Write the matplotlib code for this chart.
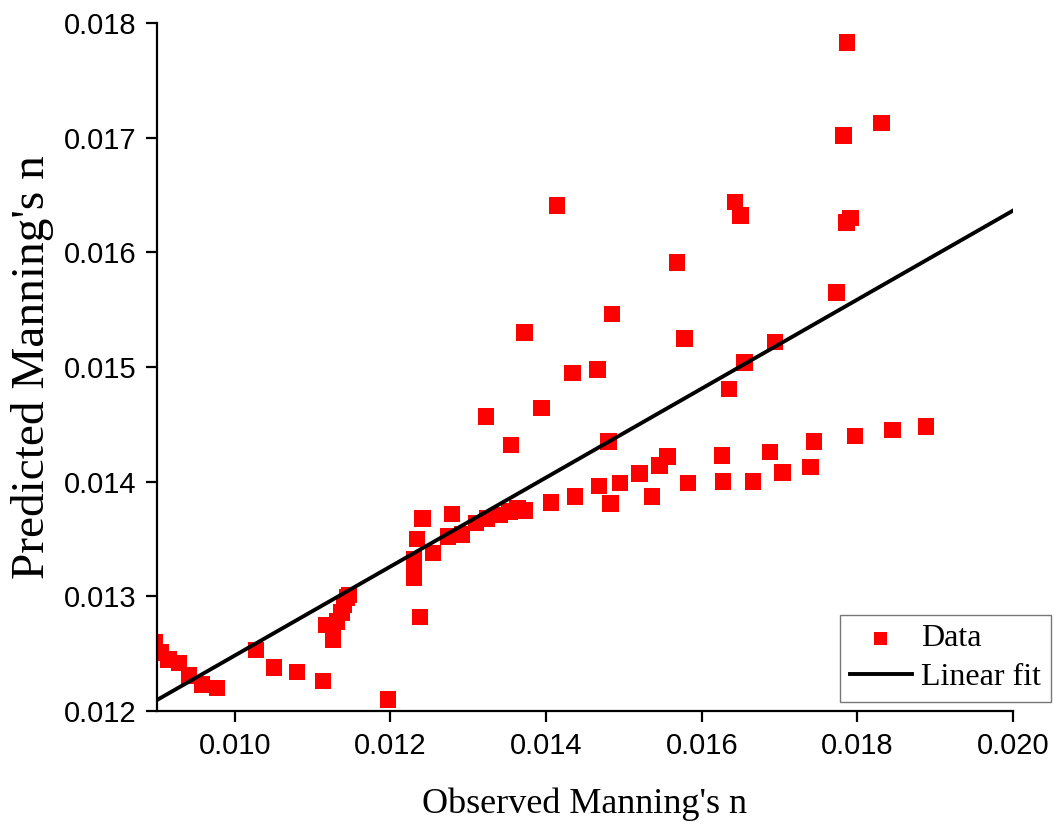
import matplotlib
matplotlib.use("Agg")
import matplotlib.pyplot as plt
import numpy as np

# Observed vs predicted Manning's n
observed = [
    0.00897, 0.00905, 0.00915, 0.00928, 0.00941, 0.00958, 0.00977,
    0.01027, 0.01050, 0.01080, 0.01113, 0.01197,
    0.01117, 0.01126, 0.01126, 0.01131, 0.01137, 0.01140, 0.01144, 0.01147,
    0.01230, 0.01230, 0.01230, 0.01234, 0.01238, 0.01241, 0.01255, 0.01274,
    0.01279, 0.01292, 0.01310, 0.01324, 0.01340, 0.01353, 0.01363, 0.01372,
    0.01406, 0.01437, 0.01468, 0.01483, 0.01495, 0.01520, 0.01536, 0.01546,
    0.01556, 0.01582, 0.01626, 0.01627, 0.01666, 0.01688, 0.01704, 0.01740,
    0.01744, 0.01797, 0.01845, 0.01888,
    0.01323, 0.01355, 0.01394, 0.01372, 0.01434, 0.01466, 0.01480, 0.01485,
    0.01414, 0.01568, 0.01578, 0.01635, 0.01655, 0.01694, 0.01643, 0.01650,
    0.01773,
    0.01787, 0.01782, 0.01831, 0.01791, 0.01786,
]
predicted = [
    0.01260, 0.01251, 0.01245, 0.01242, 0.01231, 0.01223, 0.01220,
    0.01253, 0.01238, 0.01234, 0.01226, 0.01210,
    0.01275, 0.01271, 0.01262, 0.01278, 0.01286, 0.01293, 0.01299, 0.01301,
    0.01332, 0.01323, 0.01316, 0.01350, 0.01282, 0.01368, 0.01338, 0.01352,
    0.01372, 0.01354, 0.01364, 0.01368, 0.01371, 0.01374, 0.01377, 0.01375,
    0.01382, 0.01387, 0.01396, 0.01381, 0.01399, 0.01407, 0.01387, 0.01414,
    0.01422, 0.01399, 0.01423, 0.01400, 0.01400, 0.01426, 0.01408, 0.01413,
    0.01435, 0.01440, 0.01445, 0.01448,
    0.01457, 0.01432, 0.01464, 0.01530, 0.01495, 0.01498, 0.01435, 0.01546,
    0.01641, 0.01591, 0.01525, 0.01481, 0.01504, 0.01522, 0.01644, 0.01632,
    0.01565,
    0.01783, 0.01702, 0.01713, 0.01630, 0.01626,
]

# Linear fit shown in the reference
fit_slope = 0.388
fit_intercept = 0.012096 - 0.388 * 0.009
fit_x = [0.009, 0.020]

x_ticks = [0.010, 0.012, 0.014, 0.016, 0.018, 0.020]
x_tick_labels = ['0.010', '0.012', '0.014', '0.016', '0.018', '0.020']
y_ticks = [0.012, 0.013, 0.014, 0.015, 0.016, 0.017, 0.018]
y_tick_labels = ['0.012', '0.013', '0.014', '0.015', '0.016', '0.017', '0.018']

fig = plt.figure(figsize=(10.55, 8.25), dpi=100)
ax = fig.add_axes([157/1055, 1 - 711/825, (1013 - 157)/1055, (711 - 23)/825])

ax.scatter(observed, predicted, marker='s', s=140, color='#ff0000',
           edgecolors='none', label='Data', zorder=2)
fx = np.array(fit_x)
ax.plot(fx, fit_slope * fx + fit_intercept, color='black', lw=2.8,
        label='Linear fit', zorder=3)

ax.set_xlim(0.009, 0.020)
ax.set_ylim(0.012, 0.018)
ax.set_xticks(x_ticks)
ax.set_yticks(y_ticks)
ax.set_xticklabels(x_tick_labels)
ax.set_yticklabels(y_tick_labels)

for sp in ['top', 'right']:
    ax.spines[sp].set_visible(False)
for sp in ['left', 'bottom']:
    ax.spines[sp].set_linewidth(1.6)

ax.tick_params(axis='both', direction='out', length=8, width=1.6,
               labelsize=21, pad=7)
for lab in ax.get_xticklabels() + ax.get_yticklabels():
    lab.set_fontfamily('Liberation Sans')

ax.set_xlabel("Observed Manning's n", fontfamily='Liberation Serif',
              fontsize=26, labelpad=20)
ax.set_ylabel("Predicted Manning's n", fontfamily='Liberation Serif',
              fontsize=34, labelpad=7)

leg = ax.legend(loc='lower right', bbox_to_anchor=(1051/1055, 1 - 702/825),
                bbox_transform=fig.transFigure, borderaxespad=0,
                prop={'family': 'Liberation Serif', 'size': 23},
                frameon=True, fancybox=False, edgecolor='#777777',
                framealpha=1, handlelength=1.95, handletextpad=0.3,
                borderpad=0.3, labelspacing=0.3, markerscale=0.8)
leg.get_frame().set_linewidth(1.0)

fig.savefig('out.png', dpi=100)
